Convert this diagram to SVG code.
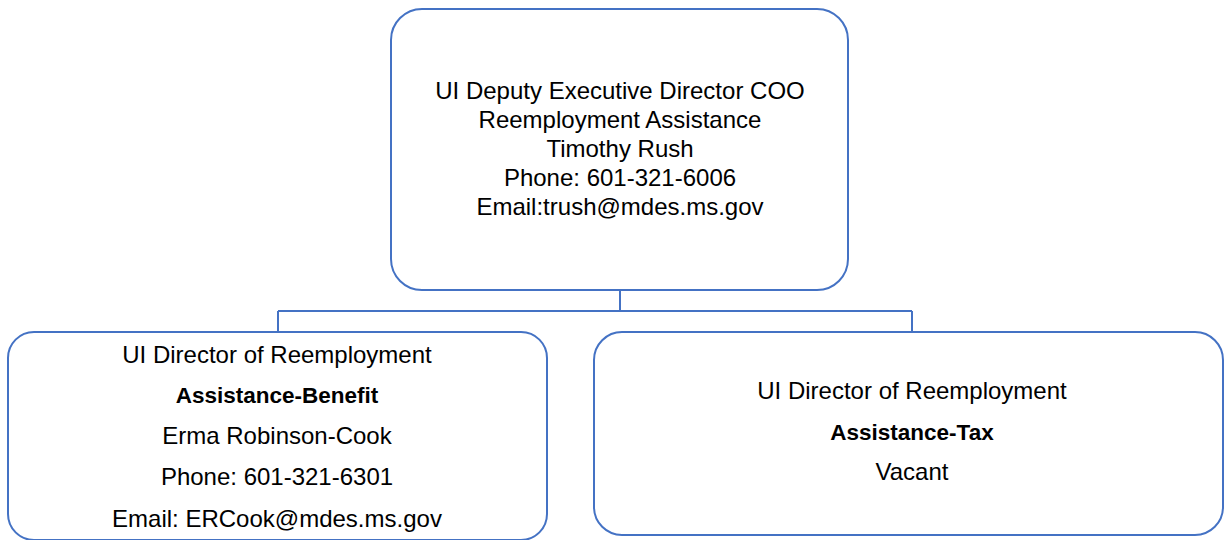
<svg xmlns="http://www.w3.org/2000/svg" width="1225" height="540" viewBox="0 0 1225 540">
<style>
.box{fill:#fff;stroke:#4472C4;stroke-width:2}
.conn{fill:none;stroke:#4472C4;stroke-width:2}
text{font-family:"Liberation Sans",Arial,sans-serif;font-size:24px;fill:#000;text-anchor:middle}
.b{font-weight:bold;font-size:22.5px}
</style>
<rect width="1225" height="540" fill="#fff"/>
<g id="connectors">
<path class="conn" d="M620 290 V311 M278 311 H912 M278 311 V332 M912 311 V332"/>
</g>
<g id="node-top">
<rect class="box" x="391" y="9" width="457" height="281" rx="31" ry="31"/>
<text x="620" y="99">UI Deputy Executive Director COO</text>
<text x="620" y="128">Reemployment Assistance</text>
<text x="620" y="157">Timothy Rush</text>
<text x="620" y="186">Phone: 601-321-6006</text>
<text x="620" y="215">Email:trush@mdes.ms.gov</text>
</g>
<g id="node-benefit">
<rect class="box" x="8" y="332" width="539" height="208" rx="26" ry="26"/>
<text x="277" y="363">UI Director of Reemployment</text>
<text class="b" x="277" y="403">Assistance-Benefit</text>
<text x="277" y="444">Erma Robinson-Cook</text>
<text x="277" y="485">Phone: 601-321-6301</text>
<text x="277" y="527">Email: ERCook@mdes.ms.gov</text>
</g>
<g id="node-tax">
<rect class="box" x="594" y="332" width="629" height="203" rx="28" ry="28"/>
<text x="912" y="399">UI Director of Reemployment</text>
<text class="b" x="912" y="440">Assistance-Tax</text>
<text x="912" y="480">Vacant</text>
</g>
</svg>
